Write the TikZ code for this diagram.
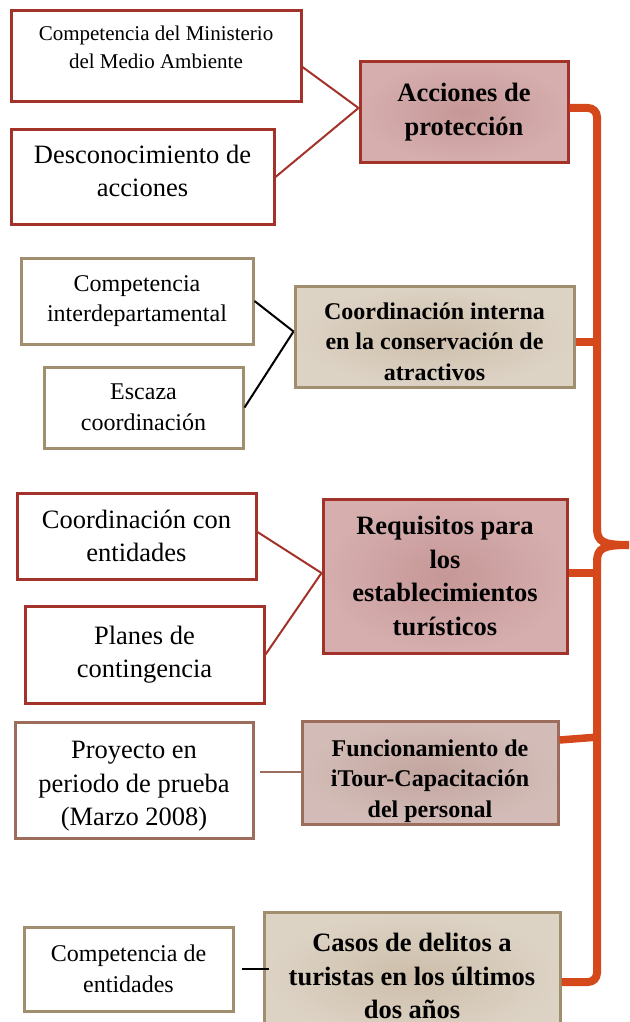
\documentclass[tikz,border=0pt]{standalone}
\usepackage{fontspec}
\setmainfont{Liberation Serif}
\definecolor{redline}{HTML}{A3322A}
\definecolor{tanline}{HTML}{A08E6E}
\definecolor{brownline}{HTML}{9C6C5C}
\definecolor{pinkin}{HTML}{C69797}
\definecolor{pinkout}{HTML}{D6AEAE}
\definecolor{beigein}{HTML}{CDBEAA}
\definecolor{beigeout}{HTML}{DDD3C5}
\definecolor{rosein}{HTML}{C3A59F}
\definecolor{roseout}{HTML}{D3BCB7}
\definecolor{bracecol}{HTML}{D5481B}
\newcommand\bigtxt{\fontsize{26.5}{33.5}\selectfont}
\newcommand\midtxt{\fontsize{24}{30.5}\selectfont}
\newcommand\smalltxt{\fontsize{21}{28}\selectfont}
\begin{document}
\begin{tikzpicture}[x=1pt,y=-1pt,
leaf/.style={draw,line width=3pt,fill=white,align=center,inner sep=2pt},
topic/.style={draw,line width=3pt,align=center,inner sep=2pt,font=\bfseries\bigtxt},
link/.style={line width=2pt},
brace/.style={draw=bracecol,line width=8pt},
branch/.style={draw=bracecol,line width=7.5pt}]
\def\s{597}
\useasboundingbox(0,0)rectangle(629,1022);
\clip(0,0)rectangle(629,1022);
% first group
\node[leaf,draw=redline,minimum width=290,minimum height=91,font=\smalltxt](b1)at(156,56.5){Competencia del Ministerio\\del Medio Ambiente\rule[-18pt]{0pt}{18pt}};
\node[leaf,draw=redline,minimum width=263,minimum height=94,font=\bigtxt](b2)at(142.5,177){Desconocimiento de\\acciones\rule[-12pt]{0pt}{12pt}};
\node[topic,draw=redline,inner color=pinkin,outer color=pinkout,minimum width=208,minimum height=100](b3)at(464,112){Acciones de\\protección};
% second group
\node[leaf,draw=tanline,minimum width=232,minimum height=86,font=\midtxt](b4)at(137,301){Competencia\\interdepartamental};
\node[leaf,draw=tanline,minimum width=199,minimum height=81,font=\midtxt](b5)at(143.5,407.5){Escaza\\coordinación};
\node[topic,draw=tanline,inner color=beigein,outer color=beigeout,minimum width=279,minimum height=101,font=\bfseries\midtxt](b6)at(434.5,336.5){\rule{0pt}{27pt}Coordinación interna\\en la conservación de\\atractivos};
% third group
\node[leaf,draw=redline,minimum width=239,minimum height=86,font=\bigtxt](b7)at(136.5,536){Coordinación con\\entidades};
\node[leaf,draw=redline,minimum width=239,minimum height=97,font=\bigtxt](b8)at(144.5,654.5){Planes de\\contingencia};
\node[topic,draw=redline,inner color=pinkin,outer color=pinkout,minimum width=244,minimum height=154](b9)at(445,576){Requisitos para\\los\\establecimientos\\turísticos};
% fourth group
\node[leaf,draw=brownline,minimum width=238,minimum height=116,font=\bigtxt](b10)at(134,780){\rule{0pt}{30pt}Proyecto en\\periodo de prueba\\(Marzo 2008)};
\node[topic,draw=brownline,inner color=rosein,outer color=roseout,minimum width=256,minimum height=102,font=\bfseries\midtxt](b11)at(430,773){\rule{0pt}{33pt}Funcionamiento de\\iTour-Capacitación\\del personal};
% fifth group
\node[leaf,draw=tanline,minimum width=209,minimum height=84,font=\midtxt](b12)at(128.5,969){Competencia de\\entidades};
\node[topic,draw=tanline,inner color=beigein,outer color=beigeout,minimum width=296,minimum height=128](b13)at(412,976){Casos de delitos a\\turistas en los últimos\\dos años};
% connectors
\coordinate(m3)at([yshift=4pt]b3.west);
\coordinate(m6)at([yshift=5pt]b6.west);
\coordinate(m9)at([yshift=3pt]b9.west);
\draw[link,redline]([yshift=-10.5pt]b1.east)--(m3);
\draw[link,redline](b2.east)--(m3);
\draw[link,black](b4.east)--(m6);
\draw[link,black](b5.east)--(m6);
\draw[link,redline]([yshift=4pt]b7.east)--(m9);
\draw[link,redline](b8.east)--(m9);
\draw[link,brownline,shorten <=5pt]([yshift=8pt]b10.east)--([yshift=1pt]b11.west);
\draw[link,black,shorten <=7pt,shorten >=-6pt](b12.east)--([yshift=7pt]b13.west);
% brace
\coordinate(bt)at(\s,108);
\coordinate(bb)at(\s,982);
\coordinate(tip)at(629,545);
\draw[brace,rounded corners=9pt]([yshift=4pt]b3.east)--(bt)--(\s,532);
\draw[brace,rounded corners=9pt]([yshift=-6pt]b13.east)--(bb)--(\s,558);
\draw[brace](\s,528)..controls(\s,542)and(603,545)..(tip);
\draw[brace](\s,562)..controls(\s,548)and(603,545)..(tip);
\draw[branch]([yshift=-5.5pt]b6.east)--++(23,0);
\draw[branch]([yshift=3pt]b9.east)--++(30,0);
\draw[branch]([yshift=33pt]b11.east)--++(39,-3);
\end{tikzpicture}
\end{document}
